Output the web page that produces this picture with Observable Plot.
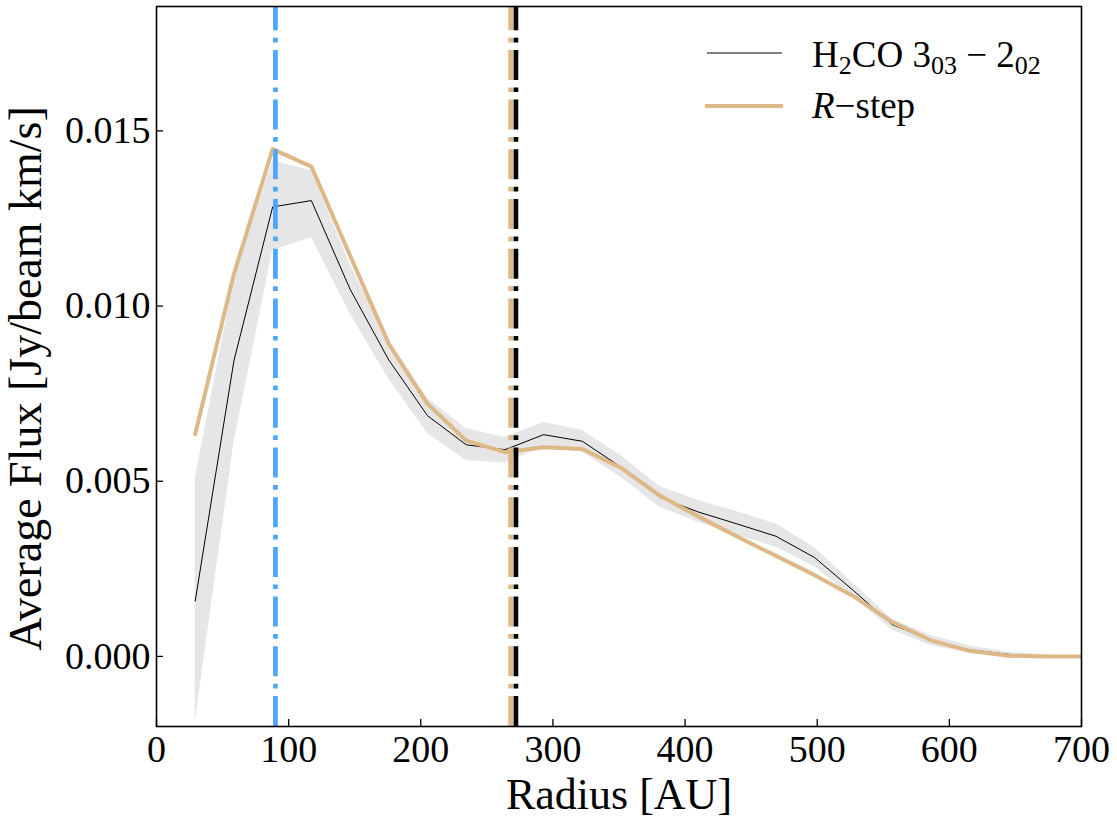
<!DOCTYPE html>
<html>
<head>
<meta charset="utf-8">
<script src="https://cdn.jsdelivr.net/npm/d3@7"></script>
<script src="https://cdn.jsdelivr.net/npm/@observablehq/plot@0.6"></script>
<style>
  body { margin: 0; background: #fff; }
  #chart svg { display: block; }
</style>
</head>
<body>
<div id="chart"></div>
<script>
// Azimuthally averaged H2CO 3(03)-2(02) flux profile and the R-step model.
const radius = [29.3, 58.6, 87.9, 117.2, 146.5, 175.8, 205.1, 234.4, 263.7, 293.0, 322.3, 351.6,
                380.9, 410.2, 439.5, 468.8, 498.1, 527.4, 556.7, 586.0, 615.3, 644.6, 673.9, 703.2];
const fluxObs = [0.00158, 0.00844, 0.01283, 0.01301, 0.01048, 0.00846, 0.00687, 0.00604, 0.00590, 0.00633, 0.00614, 0.00540,
                 0.00454, 0.00412, 0.00378, 0.00343, 0.00282, 0.00188, 0.00091, 0.00046, 0.00019, 0.00006, 0.00001, 0.0];
const fluxLow = [-0.00187, 0.00610, 0.01158, 0.01196, 0.00978, 0.00791, 0.00637, 0.00559, 0.00552, 0.00598, 0.00583, 0.00511,
                 0.00426, 0.00382, 0.00346, 0.00312, 0.00255, 0.00168, 0.00075, 0.00031, 0.00008, 0.0, -0.00002, -0.00002];
const fluxHigh = [0.00507, 0.01075, 0.01415, 0.01386, 0.01118, 0.00899, 0.00737, 0.00650, 0.00625, 0.00668, 0.00645, 0.00573,
                  0.00485, 0.00445, 0.00413, 0.00378, 0.00310, 0.00208, 0.00106, 0.00060, 0.00030, 0.00012, 0.00004, 0.00002];
const fluxModel = [0.00635, 0.01092, 0.01448, 0.01398, 0.01144, 0.00892, 0.00721, 0.00616, 0.00583, 0.00597, 0.00592, 0.00538,
                   0.00459, 0.00399, 0.00342, 0.00287, 0.00232, 0.00172, 0.00098, 0.00046, 0.00016, 0.00002, 0.0, 0.0];

const xTicks = [0, 100, 200, 300, 400, 500, 600, 700];
const yTicks = [0.000, 0.005, 0.010, 0.015];
const xDomain = [0, 700];
const yDomain = [-0.002, 0.01855];

// Radii marked by vertical dash-dot lines
const innerLineRadius = 90;
const stepRadius = 268;
const obsStepRadius = 272;

const FONT = "'Liberation Serif', 'DejaVu Serif', serif";
const BLUE = "#4ba6ff";
const TAN = "#deb887";
const DASH = "30,7.5,4.7,7.5";

const rows = radius.map((r, i) => ({
  r, obs: fluxObs[i], lo: fluxLow[i], hi: fluxHigh[i], model: fluxModel[i]
}));

// Legend drawn inside the frame, top right
function legendMark(index, scales, values, dims) {
  const right = dims.width - dims.marginRight;
  const g = d3.create("svg:g")
    .attr("font-family", FONT)
    .attr("font-size", 37)
    .attr("text-anchor", "start")
    .attr("fill", "black");
  // Observed profile entry
  g.append("line").attr("x1", right - 374).attr("x2", right - 299)
    .attr("y1", 53).attr("y2", 53).attr("stroke", "black").attr("stroke-width", 1);
  const t1 = g.append("text").attr("x", right - 269).attr("y", 67);
  t1.append("tspan").text("H");
  t1.append("tspan").attr("font-size", 26).attr("dy", 7).text("2");
  t1.append("tspan").attr("dy", -7).text("CO 3");
  t1.append("tspan").attr("font-size", 26).attr("dy", 7).text("03");
  t1.append("tspan").attr("dy", -7).text(" \u2212 2");
  t1.append("tspan").attr("font-size", 26).attr("dy", 7).text("02");
  // Model entry
  g.append("line").attr("x1", right - 376).attr("x2", right - 298)
    .attr("y1", 106).attr("y2", 106).attr("stroke", TAN).attr("stroke-width", 4);
  const t2 = g.append("text").attr("x", right - 269).attr("y", 118);
  t2.append("tspan").attr("font-style", "italic").text("R");
  t2.append("tspan").text("\u2212step");
  return g.node();
}

const chart = Plot.plot({
  width: 1117,
  height: 834,
  marginLeft: 156,
  marginRight: 36,
  marginTop: 6,
  marginBottom: 108,
  style: { fontFamily: FONT, fontSize: "38px", background: "#fff", color: "black", overflow: "visible" },
  x: { domain: xDomain, ticks: xTicks },
  y: { domain: yDomain, ticks: yTicks },
  marks: [
    Plot.areaY(rows, { x: "r", y1: "lo", y2: "hi", fill: "#e6e6e6", clip: true }),
    Plot.line(rows, { x: "r", y: "obs", stroke: "black", strokeWidth: 1, clip: true }),
    Plot.line(rows, { x: "r", y: "model", stroke: TAN, strokeWidth: 4, clip: true }),
    Plot.ruleX([innerLineRadius], { y1: yDomain[0], y2: yDomain[1], stroke: BLUE, strokeWidth: 4.7, strokeDasharray: DASH }),
    Plot.ruleX([obsStepRadius], { y1: yDomain[0], y2: yDomain[1], stroke: "black", strokeWidth: 4.7, strokeDasharray: DASH }),
    Plot.ruleX([stepRadius], { y1: yDomain[0], y2: yDomain[1], stroke: TAN, strokeWidth: 4.7, strokeDasharray: DASH }),
    Plot.frame({ stroke: "black", strokeWidth: 1.6 }),
    Plot.axisX({ ticks: xTicks, tickSize: -7, tickPadding: 16, strokeWidth: 1.3, label: null, tickFormat: d3.format("d") }),
    Plot.axisY({ ticks: yTicks, tickSize: -7, tickPadding: 13, strokeWidth: 1.3, label: null, tickFormat: d3.format(".3f") }),
    Plot.text(["Radius [AU]"], { frameAnchor: "bottom", lineAnchor: "middle", textAnchor: "middle", dy: 68, fontSize: 44, text: d => d }),
    Plot.text(["Average Flux [Jy/beam km/s]"], { frameAnchor: "left", lineAnchor: "middle", textAnchor: "middle", rotate: -90, dx: -130, dy: 12, fontSize: 46, text: d => d }),
    legendMark
  ]
});

document.getElementById("chart").appendChild(chart);
</script>
</body>
</html>
